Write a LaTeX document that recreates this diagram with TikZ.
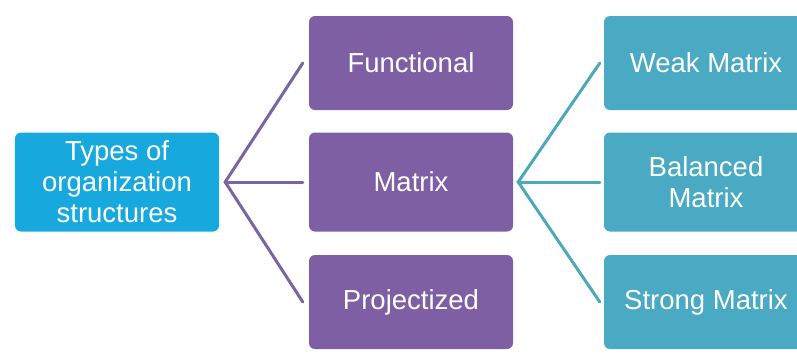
\documentclass[tikz,border=0pt]{standalone}
\usepackage{fontspec}
\setmainfont{Liberation Sans}
\definecolor{rootblue}{HTML}{17A8DE}
\definecolor{plum}{HTML}{7E5FA4}
\definecolor{teal}{HTML}{4AA9C3}
\definecolor{plumline}{HTML}{7A64A2}
\definecolor{tealline}{HTML}{4BA9B8}
\tikzset{
  x=1bp, y=-1bp,
  box/.style={rounded corners=6bp, minimum width=204bp, inner sep=0pt,
    text=white, align=center, font=\fontsize{27.5bp}{31bp}\selectfont},
  rootbox/.style={box, fill=rootblue, minimum height=99bp},
  midbox/.style={box, fill=plum},
  leafbox/.style={box, fill=teal},
  tall/.style={minimum height=99bp},
  short/.style={minimum height=94bp},
  link/.style={line width=3bp, line cap=round},
}
\begin{document}
\begin{tikzpicture}
\useasboundingbox (0,0) rectangle (797,354);
\clip (0,0) rectangle (797,354);
% root
\node[rootbox] (root) at (117,182) {Types of\\organization\\structures};
% second level
\node[midbox, short] (func) at (411,63) {Functional};
\node[midbox, tall]  (matrix) at (411,182) {Matrix};
\node[midbox, short] (proj) at (411,302) {Projectized};
% third level
\node[leafbox, short] (weak) at (706,63) {Weak Matrix};
\node[leafbox, tall]  (bal) at (706,182) {Balanced\\Matrix};
\node[leafbox, short] (strong) at (706,302) {Strong Matrix};
% fan-out junctions
\coordinate (j1) at ([xshift=6bp]root.east);
\coordinate (j2) at ([xshift=5bp]matrix.east);
\draw[link, plumline] ([xshift=-6bp]func.west) -- (j1) -- ([xshift=-6bp]proj.west);
\draw[link, plumline] (j1) -- ([xshift=-6bp]matrix.west);
\draw[link, tealline] ([xshift=-4bp]weak.west) -- (j2) -- ([xshift=-4bp]strong.west);
\draw[link, tealline] (j2) -- ([xshift=-4bp]bal.west);
\end{tikzpicture}
\end{document}
